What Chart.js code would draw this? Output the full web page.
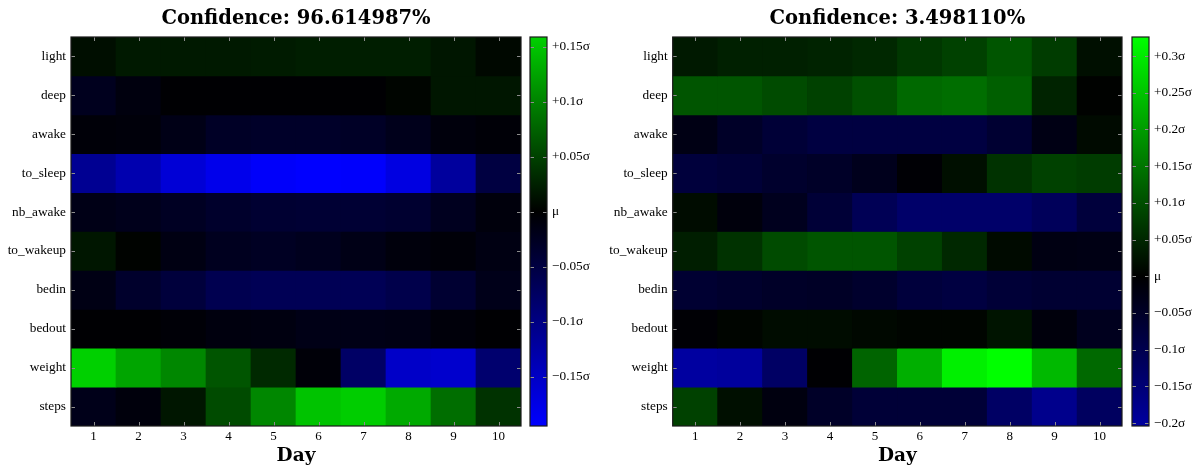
<!DOCTYPE html>
<html><head><meta charset="utf-8">
<script src="https://cdn.jsdelivr.net/npm/chart.js@4.4.1/dist/chart.umd.min.js"></script>
<style>
html,body{margin:0;padding:0;background:#fff;width:1200px;height:468px;overflow:hidden;position:relative}
.box{position:absolute;top:0;height:468px}
</style></head><body>
<div class="box" style="left:0;width:530px"><canvas id="h1"></canvas></div>
<div class="box" style="left:520px;width:80px"><canvas id="cb1"></canvas></div>
<div class="box" style="left:600px;width:530px"><canvas id="h2"></canvas></div>
<div class="box" style="left:1120px;width:80px"><canvas id="cb2"></canvas></div>
<script>
const rows = ['light','deep','awake','to_sleep','nb_awake','to_wakeup','bedin','bedout','weight','steps'];
const days = ['1','2','3','4','5','6','7','8','9','10'];
const titleLeft = 'Confidence: 96.614987%';
const titleRight = 'Confidence: 3.498110%';
const xTitle = 'Day';

// left panel values (in sigma)
const L_light    = [0.011,0.019,0.019,0.019,0.021,0.023,0.023,0.023,0.017,0.006];
const L_deep     = [-0.023,-0.011,-0.002,-0.002,-0.002,-0.002,-0.002,0.004,0.017,0.017];
const L_awake    = [-0.006,-0.008,-0.017,-0.029,-0.031,-0.031,-0.029,-0.021,-0.009,-0.005];
const L_to_sleep = [-0.112,-0.134,-0.164,-0.180,-0.191,-0.195,-0.193,-0.172,-0.120,-0.050];
const L_nb_awake = [-0.017,-0.021,-0.027,-0.034,-0.038,-0.040,-0.040,-0.037,-0.024,-0.009];
const L_to_wakeup= [0.017,0.002,-0.014,-0.024,-0.027,-0.023,-0.017,-0.009,-0.006,-0.014];
const L_bedin    = [-0.015,-0.034,-0.046,-0.061,-0.065,-0.065,-0.065,-0.057,-0.038,-0.019];
const L_bedout   = [-0.002,-0.002,-0.005,-0.011,-0.012,-0.017,-0.017,-0.015,-0.008,-0.002];
const L_weight   = [0.159,0.126,0.103,0.065,0.031,-0.006,-0.077,-0.153,-0.157,-0.084];
const L_steps    = [-0.019,-0.009,0.017,0.057,0.103,0.149,0.157,0.130,0.084,0.038];

// right panel values (in sigma)
const R_light    = [0.032,0.041,0.041,0.045,0.051,0.070,0.083,0.109,0.077,0.019];
const R_deep     = [0.109,0.109,0.096,0.083,0.102,0.134,0.141,0.121,0.045,0.003];
const R_awake    = [-0.026,-0.051,-0.070,-0.083,-0.083,-0.083,-0.083,-0.064,-0.026,0.013];
const R_to_sleep = [-0.077,-0.070,-0.058,-0.051,-0.036,-0.006,0.019,0.064,0.083,0.077];
const R_nb_awake = [0.015,-0.015,-0.038,-0.070,-0.109,-0.134,-0.134,-0.134,-0.115,-0.077];
const R_to_wakeup= [0.038,0.064,0.096,0.109,0.109,0.083,0.051,0.013,-0.023,-0.026];
const R_bedin    = [-0.064,-0.058,-0.051,-0.049,-0.058,-0.077,-0.083,-0.070,-0.064,-0.064];
const R_bedout   = [-0.006,0.006,0.015,0.015,0.010,0.006,0.006,0.026,-0.015,-0.038];
const R_weight   = [-0.204,-0.200,-0.128,-0.004,0.128,0.224,0.307,0.326,0.237,0.134];
const R_steps    = [0.083,0.019,-0.019,-0.051,-0.070,-0.070,-0.070,-0.128,-0.179,-0.122];

// colorbar ticks
const cbTicksLeft  = [-0.15,-0.1,-0.05,0,0.05,0.1,0.15];
const cbLabelsLeft = ['\u22120.15\u03c3','\u22120.1\u03c3','\u22120.05\u03c3','\u03bc','+0.05\u03c3','+0.1\u03c3','+0.15\u03c3'];
const cbTicksRight  = [-0.2,-0.15,-0.1,-0.05,0,0.05,0.1,0.15,0.2,0.25,0.3];
const cbLabelsRight = ['\u22120.2\u03c3','\u22120.15\u03c3','\u22120.1\u03c3','\u22120.05\u03c3','\u03bc','+0.05\u03c3','+0.1\u03c3','+0.15\u03c3','+0.2\u03c3','+0.25\u03c3','+0.3\u03c3'];

const leftGrid  = [L_light,L_deep,L_awake,L_to_sleep,L_nb_awake,L_to_wakeup,L_bedin,L_bedout,L_weight,L_steps];
const rightGrid = [R_light,R_deep,R_awake,R_to_sleep,R_nb_awake,R_to_wakeup,R_bedin,R_bedout,R_weight,R_steps];

const SERIF = "'Liberation Serif', 'DejaVu Serif', serif";
const BOLD_SERIF = "'DejaVu Serif', serif";

function colorOf(v, M){
  const k = Math.max(0, Math.min(255, Math.round(255*Math.abs(v)/M)));
  return v >= 0 ? `rgb(0,${k},0)` : `rgb(0,0,${k})`;
}
function rangeOf(grid){
  let mn = Infinity, mx = -Infinity;
  grid.forEach(r => r.forEach(v => { mn = Math.min(mn, v); mx = Math.max(mx, v); }));
  return [mn, mx];
}

const heatFrame = {
  id: 'heatFrame',
  beforeDatasetsDraw(ch){
    const a = ch.chartArea, c = ch.ctx;
    c.save(); c.fillStyle = '#000';
    c.fillRect(a.left, a.top, a.right - a.left, a.bottom - a.top);
    c.restore();
  },
  afterDatasetsDraw(ch){
    const a = ch.chartArea, c = ch.ctx, x = ch.scales.x, y = ch.scales.y;
    c.save();
    c.strokeStyle = '#8c8c8c'; c.lineWidth = 1;
    c.beginPath();
    x.ticks.forEach((t, i) => {
      const px = Math.round(x.getPixelForTick(i)) + 0.5;
      c.moveTo(px, a.top); c.lineTo(px, a.top + 4);
      c.moveTo(px, a.bottom); c.lineTo(px, a.bottom - 4);
    });
    y.ticks.forEach((t, i) => {
      const py = Math.round(y.getPixelForTick(i)) + 0.5;
      c.moveTo(a.left, py); c.lineTo(a.left + 4, py);
      c.moveTo(a.right, py); c.lineTo(a.right - 4, py);
    });
    c.stroke();
    c.strokeStyle = '#1a1a1a'; c.lineWidth = 1.2;
    c.strokeRect(a.left, a.top, a.right - a.left, a.bottom - a.top);
    c.restore();
  }
};

const cbFrame = {
  id: 'cbFrame',
  afterDatasetsDraw(ch){
    const a = ch.chartArea, c = ch.ctx, y = ch.scales.y;
    c.save();
    c.strokeStyle = '#8c8c8c'; c.lineWidth = 1;
    c.beginPath();
    y.ticks.forEach((t, i) => {
      const py = Math.round(y.getPixelForTick(i)) + 0.5;
      c.moveTo(a.left, py); c.lineTo(a.left + 4, py);
      c.moveTo(a.right, py); c.lineTo(a.right - 4, py);
    });
    c.stroke();
    c.strokeStyle = '#1a1a1a'; c.lineWidth = 1.2;
    c.strokeRect(a.left, a.top, a.right - a.left, a.bottom - a.top);
    c.restore();
  }
};

function makeHeat(id, title, grid, yWidth, padRight){
  const [mn, mx] = rangeOf(grid);
  const M = Math.max(Math.abs(mn), Math.abs(mx));
  return new Chart(document.getElementById(id), {
    type: 'bar',
    data: {
      labels: days,
      datasets: grid.map((vals, i) => ({
        label: rows[i],
        data: vals.map(() => [i, i + 1]),
        backgroundColor: vals.map(v => colorOf(v, M)),
        borderWidth: 0,
        grouped: false,
        barPercentage: 1,
        categoryPercentage: 1
      }))
    },
    options: {
      responsive: true, maintainAspectRatio: false, animation: false,
      layout: { padding: { left: 0, right: padRight, top: 0, bottom: 0 } },
      plugins: {
        legend: { display: false },
        tooltip: { enabled: false },
        title: {
          display: true, text: title, fullSize: false, color: '#000',
          font: { family: BOLD_SERIF, weight: 'bold', size: 19.5, lineHeight: 1.2 },
          padding: { top: 7, bottom: 6.6 }
        }
      },
      scales: {
        x: {
          type: 'category', offset: true,
          grid: { display: false, drawTicks: false },
          border: { display: false },
          ticks: { color: '#000', font: { family: SERIF, size: 13 }, padding: 3, maxRotation: 0 },
          title: { display: true, text: xTitle, color: '#000',
                   font: { family: BOLD_SERIF, weight: 'bold', size: 18.5, lineHeight: 1.2 },
                   padding: { top: 0, bottom: 1 } },
          afterFit(s){ s.height = 42; }
        },
        y: {
          type: 'linear', min: 0, max: 10, reverse: true,
          grid: { display: false, drawTicks: false },
          border: { display: false },
          afterBuildTicks(s){ s.ticks = rows.map((r, i) => ({ value: i + 0.5 })); },
          ticks: { autoSkip: false, color: '#000', font: { family: SERIF, size: 13.3 }, padding: 5,
                   callback: (v, i) => rows[i] },
          afterFit(s){ s.width = yWidth; }
        }
      }
    },
    plugins: [heatFrame]
  });
}

function makeBar(id, grid, ticks, labels, padLeft, barW, yWidth){
  const [vmin, vmax] = rangeOf(grid);
  const M = Math.max(Math.abs(vmin), Math.abs(vmax));
  return new Chart(document.getElementById(id), {
    type: 'bar',
    data: {
      labels: ['cb'],
      datasets: [{
        data: [[vmin, vmax]],
        backgroundColor: (ctx) => {
          const ch = ctx.chart; const a = ch.chartArea;
          if (!a) return '#000';
          const y = ch.scales.y;
          const top = y.getPixelForValue(vmax), bot = y.getPixelForValue(vmin), mid = y.getPixelForValue(0);
          const g = ch.ctx.createLinearGradient(0, top, 0, bot);
          g.addColorStop(0, colorOf(vmax, M));
          g.addColorStop((mid - top) / (bot - top), 'rgb(0,0,0)');
          g.addColorStop(1, colorOf(vmin, M));
          return g;
        },
        borderWidth: 0,
        barPercentage: 1,
        categoryPercentage: 1
      }]
    },
    options: {
      responsive: true, maintainAspectRatio: false, animation: false,
      layout: { padding: { left: padLeft, right: 0, top: 37, bottom: 42 } },
      plugins: { legend: { display: false }, tooltip: { enabled: false }, title: { display: false } },
      scales: {
        x: { display: false },
        y: {
          position: 'right', min: vmin, max: vmax,
          grid: { display: false, drawTicks: false },
          border: { display: false },
          afterBuildTicks(s){ s.ticks = ticks.map(v => ({ value: v })); },
          ticks: { autoSkip: false, color: '#000', font: { family: SERIF, size: 13.3 }, padding: 5,
                   callback: (v, i) => labels[i] },
          afterFit(s){ s.width = yWidth; }
        }
      }
    },
    plugins: [cbFrame]
  });
}

makeHeat('h1', titleLeft, leftGrid, 71, 9);
makeHeat('h2', titleRight, rightGrid, 72.7, 8);
makeBar('cb1', leftGrid, cbTicksLeft, cbLabelsLeft, 10, 17, 53);
makeBar('cb2', rightGrid, cbTicksRight, cbLabelsRight, 12, 17, 51);
</script>
</body></html>
